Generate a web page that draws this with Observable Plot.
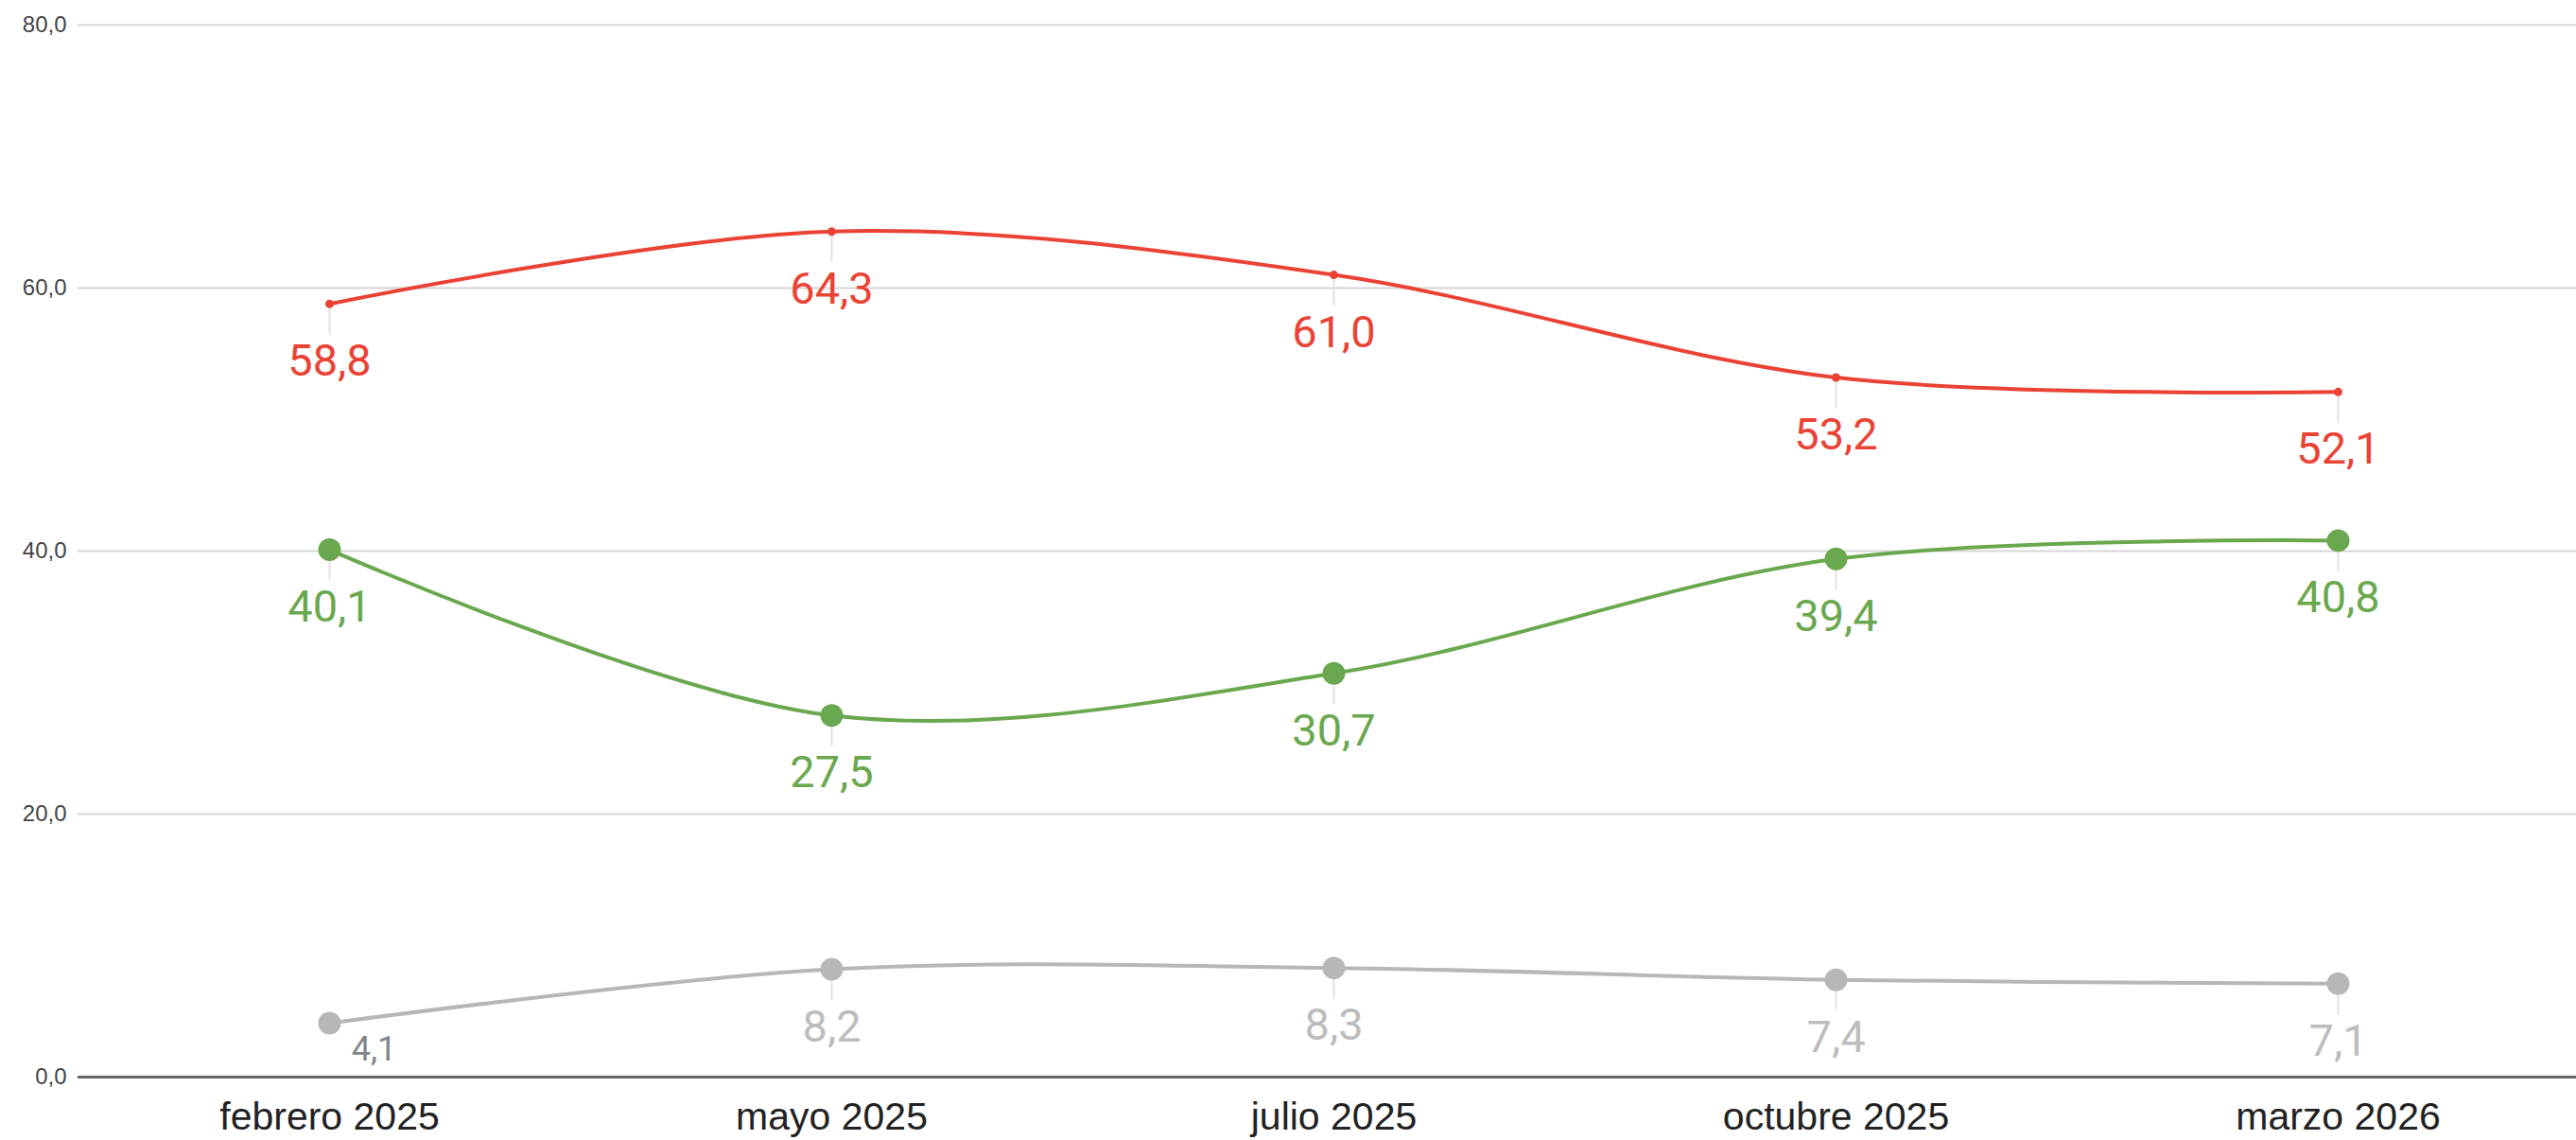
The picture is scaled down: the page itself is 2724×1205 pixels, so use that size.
<!DOCTYPE html>
<html>
<head>
<meta charset="utf-8">
<script src="https://cdn.jsdelivr.net/npm/d3@7"></script>
<script src="https://cdn.jsdelivr.net/npm/@observablehq/plot@0.6"></script>
<style>
  html, body { margin: 0; padding: 0; background: #fff; }
  #chart svg { display: block; }
</style>
</head>
<body>
<div id="chart"></div>
<script>
const months = ["febrero 2025", "mayo 2025", "julio 2025", "octubre 2025", "marzo 2026"];
const rojo = [58.8, 64.3, 61.0, 53.2, 52.1];
const verde = [40.1, 27.5, 30.7, 39.4, 40.8];
const gris = [4.1, 8.2, 8.3, 7.4, 7.1];
const yTicks = [0, 20, 40, 60, 80];

const fmt = v => v.toFixed(1).replace(".", ",");
const rows = (vals, s) => vals.map((v, i) => ({month: months[i], value: v, serie: s, idx: i}));
const rRows = rows(rojo, "rojo");
const gRows = rows(verde, "verde");
const yRows = rows(gris, "gris");

const RED = "#ea4335", GREEN = "#6aa84f", GRAY = "#b7b7b7";
const labelFont = "Roboto, 'Noto Sans', sans-serif";

const leader = data => Plot.ruleX(data, {x: "month", y1: "value", y2: "value", insetTop: 0, insetBottom: -33, stroke: "#e3e3e3", strokeWidth: 2});
const labels = (data, color) => Plot.text(data, {x: "month", y: "value", text: d => fmt(d.value), fill: color, fontSize: 47, fontFamily: labelFont, dy: 61, textAnchor: "middle"});

const chart = Plot.plot({
  width: 2724,
  height: 1205,
  marginLeft: 82,
  marginRight: 0,
  marginTop: 26,
  marginBottom: 67,
  style: {fontFamily: "'Liberation Sans', Arial, sans-serif", background: "#fff"},
  x: {type: "point", domain: months, padding: 0, insetLeft: 266, insetRight: 252},
  y: {domain: [0, 80]},
  marks: [
    Plot.ruleY(yTicks.filter(t => t > 0), {stroke: "#d6d6d6", strokeWidth: 2}),
    Plot.axisY({ticks: yTicks, tickSize: 0, tickPadding: 12, tickFormat: fmt, fontSize: 24, color: "#444", label: null}),
    Plot.axisX({tickSize: 0, tickPadding: 26, fontSize: 41, color: "#222", label: null}),
    leader(rRows),
    leader(gRows),
    leader(yRows.filter(d => d.idx > 0)),
    Plot.ruleY([0], {stroke: "#666", strokeWidth: 3}),
    Plot.line(yRows, {x: "month", y: "value", stroke: GRAY, strokeWidth: 4, curve: "catmull-rom"}),
    Plot.line(gRows, {x: "month", y: "value", stroke: GREEN, strokeWidth: 4, curve: "catmull-rom"}),
    Plot.line(rRows, {x: "month", y: "value", stroke: RED, strokeWidth: 4, curve: "catmull-rom"}),
    Plot.dot(yRows, {x: "month", y: "value", r: 12, fill: GRAY}),
    Plot.dot(gRows, {x: "month", y: "value", r: 12, fill: GREEN}),
    Plot.dot(rRows, {x: "month", y: "value", r: 4.5, fill: RED}),
    labels(rRows, RED),
    labels(gRows, GREEN),
    labels(yRows.filter(d => d.idx > 0), "#bdbdbd"),
    Plot.text(yRows.filter(d => d.idx === 0), {x: "month", y: "value", text: d => fmt(d.value), fill: "#80868b", fontSize: 36, fontFamily: labelFont, dx: 47, dy: 28, textAnchor: "middle"})
  ]
});
document.getElementById("chart").appendChild(chart);
</script>
</body>
</html>
